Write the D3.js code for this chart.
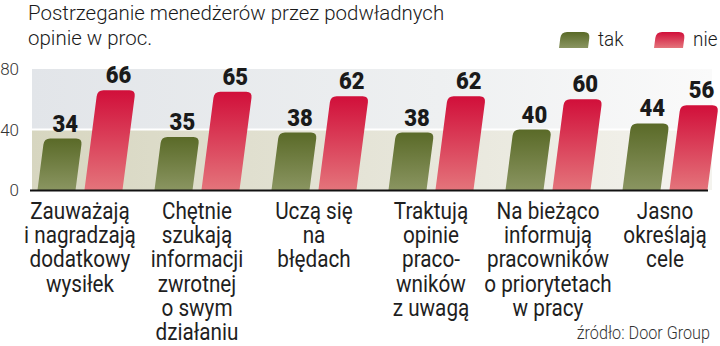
<!DOCTYPE html>
<html><head><meta charset="utf-8">
<script src="https://cdn.jsdelivr.net/npm/d3@7"></script>
<style>
html,body{margin:0;padding:0;background:#fff;}
svg{display:block;}
text{font-family:Roboto,"Noto Sans",sans-serif;}
</style></head>
<body>
<svg id="c" width="720" height="346"></svg>
<script>
const title1 = "Postrzeganie menedżerów przez podwładnych";
const title2 = "opinie w proc.";
const source = "źródło: Door Group";
const seriesNames = ["tak", "nie"];
const categoryLines = [
  ["Zauważają","i nagradzają","dodatkowy","wysiłek"],
  ["Chętnie","szukają","informacji","zwrotnej","o swym","działaniu"],
  ["Uczą się","na","błędach"],
  ["Traktują","opinie","praco-","wników","z uwagą"],
  ["Na bieżąco","informują","pracowników","o priorytetach","w pracy"],
  ["Jasno","określają","cele"]
];
const takValues = [34, 35, 38, 38, 40, 44];
const nieValues = [66, 65, 62, 62, 60, 56];
const yTicks = [0, 40, 80];

const svg = d3.select("#c");
const defs = svg.append("defs");

function lin(id, x1,y1,x2,y2, stops){
  const g = defs.append("linearGradient").attr("id", id)
    .attr("x1",x1).attr("y1",y1).attr("x2",x2).attr("y2",y2);
  stops.forEach(s => g.append("stop").attr("offset", s[0]).attr("stop-color", s[1]));
}
lin("gTak","0","0","0","1",[[0,"#5a6a28"],[1,"#8a9561"]]);
lin("gNie","0","0","0","1",[[0,"#d10f3a"],[1,"#e4747b"]]);
lin("bgTop","0","0","1","0",[[0,"#e2e5e9"],[0.6,"#eef0f1"],[1,"#fafafa"]]);
lin("bgBot","0","0","1","0",[[0,"#d7d6c0"],[0.6,"#e8e7dc"],[1,"#f4f3ee"]]);

const y = d3.scaleLinear().domain([0, 80]).range([190, 69]);
const x = d3.scaleBand().domain(d3.range(categoryLines.length)).range([21.5, 723.5]);
const xs = d3.scaleBand().domain(seriesNames).range([-42.5, 42.5]).paddingInner(0.19);
const skew = 0.13;

// background bands
const plotL = 32, plotR = 712;
svg.append("rect").attr("x", plotL).attr("y", y(80)).attr("width", plotR-plotL)
  .attr("height", y(40)-y(80)).attr("fill","url(#bgTop)");
svg.append("rect").attr("x", plotL).attr("y", y(40)).attr("width", plotR-plotL)
  .attr("height", y(0)-y(40)).attr("fill","url(#bgBot)");
svg.append("line").attr("x1", plotL).attr("x2", plotR).attr("y1", y(40)).attr("y2", y(40))
  .attr("stroke","#fff").attr("stroke-width",2);

// y tick labels
svg.selectAll(".yt").data(yTicks).enter().append("text")
  .attr("x", 19).attr("y", d => y(d)).attr("dy","0.36em")
  .attr("text-anchor","end").attr("font-size",17).attr("font-weight",300)
  .attr("fill","#333").text(d => d);

function barPath(x0, w, yb, yt){
  const h = yb - yt, s = h*skew, r = Math.min(6, h/2);
  const p = d3.path();
  p.moveTo(x0, yb);
  p.lineTo(x0 + w, yb);
  p.lineTo(x0 + w + s*(h-r)/h, yt + r);
  p.quadraticCurveTo(x0 + w + s, yt, x0 + w + s - r, yt);
  p.lineTo(x0 + s + r, yt);
  p.quadraticCurveTo(x0 + s, yt, x0 + s*(h-r)/h, yt + r);
  p.closePath();
  return p.toString();
}

const rows = categoryLines.map((c,i) => ({i, tak: takValues[i], nie: nieValues[i]}));
const groups = svg.selectAll(".grp").data(rows).enter().append("g")
  .attr("transform", d => `translate(${x(d.i) + x.bandwidth()/2},0)`);

groups.each(function(d){
  const g = d3.select(this);
  seriesNames.forEach(s => {
    const v = d[s];
    const x0 = xs(s), w = xs.bandwidth();
    const yt = y(v), yb = y(0);
    g.append("path").attr("d", barPath(x0, w, yb, yt))
      .attr("fill", s === "tak" ? "url(#gTak)" : "url(#gNie)");
    const cx = x0 + w/2 + (yb-yt)*skew + 2;
    g.append("g").attr("transform", `translate(${cx},${yt-7}) scale(0.92,1)`)
      .append("text").attr("text-anchor","middle").attr("font-size",24)
      .attr("font-weight",900).attr("fill","#1a1a1a").text(v);
  });
});

// axis line
svg.append("line").attr("x1", 30).attr("x2", 708).attr("y1", y(0)+0.5).attr("y2", y(0)+0.5)
  .attr("stroke","#111").attr("stroke-width",2);

// category labels
groups.each(function(d){
  const g = d3.select(this);
  categoryLines[d.i].forEach((line, k) => {
    g.append("g").attr("transform", `translate(0,${219 + k*24.2}) scale(0.9,1)`)
      .append("text").attr("text-anchor","middle").attr("font-size",23)
      .attr("font-weight",400).attr("fill","#1f1f1f").text(line);
  });
});

// title
[title1, title2].forEach((t, k) => {
  svg.append("g").attr("transform", `translate(28,${20 + k*25}) scale(0.975,1)`)
    .append("text").attr("font-size",21).attr("font-weight",300).attr("fill","#1a1a1a").text(t);
});

// legend
const legend = [{name:"tak", fill:"url(#gTak)", x:559}, {name:"nie", fill:"url(#gNie)", x:654}];
legend.forEach(l => {
  svg.append("path").attr("d", barPath(l.x, 29, 48, 32))
    .attr("fill", l.fill);
  svg.append("g").attr("transform", `translate(${l.x+39},46) scale(0.9,1)`)
    .append("text").attr("font-size",21).attr("font-weight",300).attr("fill","#1a1a1a").text(l.name);
});

// source
svg.append("g").attr("transform", "translate(710,339) scale(0.9,1)")
  .append("text").attr("text-anchor","end").attr("font-size",18).attr("font-weight",300)
  .attr("fill","#333").text(source);
</script>
</body></html>
